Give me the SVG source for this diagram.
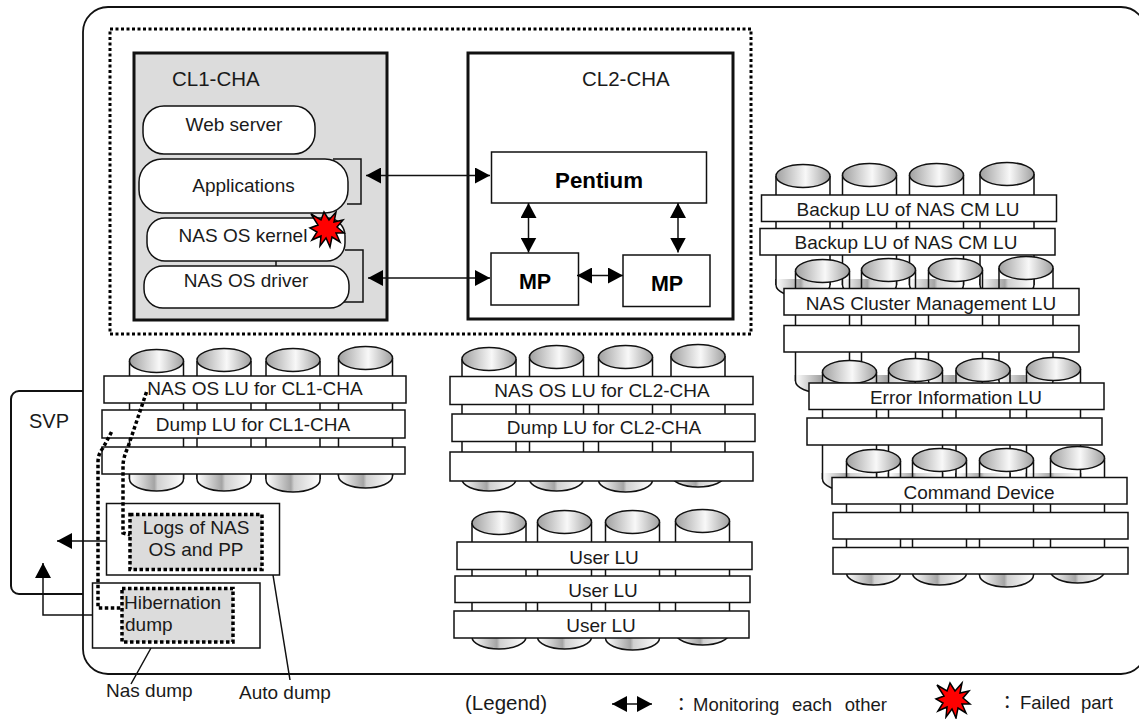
<svg xmlns="http://www.w3.org/2000/svg" xmlns:xlink="http://www.w3.org/1999/xlink" width="1139" height="719" viewBox="0 0 1139 719">
<style>
text{font-family:"Liberation Sans",Arial,sans-serif;font-size:19px;fill:#1a1a1a}
.m{text-anchor:middle}
.b{font-weight:bold;font-size:21.5px;fill:#000}
.bar,.box{fill:#fff;stroke:#111;stroke-width:1.5}
.pill{fill:#fff;stroke:#111;stroke-width:1.5}
.thick{stroke:#111;stroke-width:3}
.gray{fill:#dcdcdc}
.dot{fill:none;stroke:#000;stroke-width:3;stroke-dasharray:3 2.5}
.dot2{stroke:#000;stroke-width:3.5;stroke-dasharray:3.5 2.5}
.line{fill:none;stroke:#111;stroke-width:1.5}
.side{fill:none;stroke:#111;stroke-width:1.5}
.ar{marker-end:url(#head)}
.ar2{marker-start:url(#head);marker-end:url(#head)}
</style>
<defs>
<linearGradient id="gt"><stop offset="0" stop-color="#a0a0a0"/><stop offset=".55" stop-color="#f8f8f8"/><stop offset="1" stop-color="#a0a0a0"/></linearGradient>
<linearGradient id="gb"><stop offset="0" stop-color="#ffffff"/><stop offset=".46" stop-color="#a4a4a4"/><stop offset=".52" stop-color="#d0d0d0"/><stop offset="1" stop-color="#ffffff"/></linearGradient>
<marker id="head" markerUnits="userSpaceOnUse" markerWidth="16" markerHeight="16" refX="15" refY="8" orient="auto-start-reverse"><path d="M0 0L15 8L0 16Z" fill="#000"/></marker>
<ellipse id="ct" rx="27" ry="11.5" fill="url(#gt)" stroke="#111" stroke-width="1.5"/>
<path id="cb" d="M-27 -6V0A27 12 0 0 0 27 0V-6" fill="url(#gb)" stroke="#111" stroke-width="1.5"/>
<polygon id="star" points="-16,-15 -6,-9 -3,-17 2,-9 9,-17 7,-7 16,-9 10,-2 17,4 9,4 13,13 5,8 3,18 -1,9 -7,17 -6,7 -15,11 -10,3 -17,-1 -9,-4" fill="#f00" stroke="#000" stroke-width="1.5"/>
</defs>

<g id="svp"><rect x="11" y="391" width="110" height="203" rx="8" fill="#fff" stroke="#111" stroke-width="2"/><text x="29" y="428" style="font-size:20px">SVP</text></g>
<g id="storage-frame"><rect x="83" y="7" width="1063" height="667" rx="25" fill="#fff" stroke="#111" stroke-width="1.8"/></g>

<g id="cluster"><rect x="110" y="29" width="641" height="305" fill="none" class="dot"/></g>

<g id="cl1-cha">
<rect x="134" y="53" width="253" height="267" class="thick gray"/>
<text x="172" y="86" style="font-size:20.5px">CL1-CHA</text>
<path class="line" d="M333 159H361V204H347M345 250H363V302H343M276 261V266"/>
</g>
<g id="web-server"><rect x="143" y="106" width="172" height="48" rx="21" class="pill"/><text x="234" y="131" class="m">Web server</text></g>
<g id="applications"><rect x="139" y="159" width="209" height="54" rx="23" class="pill"/><text x="243.500" y="192" class="m">Applications</text></g>
<g id="nas-os-kernel"><rect x="147" y="218" width="198" height="43" rx="18" class="pill"/><text x="243" y="242" class="m">NAS OS kernel</text></g>
<g id="nas-os-driver"><rect x="144" y="266" width="205" height="42" rx="19" class="pill"/><text x="246" y="287" class="m">NAS OS driver</text></g>
<g id="failed-mark"><use href="#star" x="327" y="229"/></g>

<g id="cl2-cha"><rect x="468" y="53" width="265" height="266" class="thick" fill="#fff"/><text x="582" y="86" style="font-size:20.5px">CL2-CHA</text></g>
<g id="pentium"><rect x="491.500" y="152" width="215" height="51" class="box"/><text x="599" y="188" class="m b" style="font-size:22.300px">Pentium</text></g>
<g id="mp1"><rect x="491" y="253" width="87.500" height="52" class="box"/><text x="535" y="288.500" class="m b">MP</text></g>
<g id="mp2"><rect x="623" y="255" width="87" height="51.500" class="box"/><text x="667" y="291" class="m b">MP</text></g>

<g id="lu-cl1">
<path class="side" d="M129.500 361V479M183.500 361V479M197 361V479M251 361V479M266 361V479M320 361V479M338.500 358V476M392.500 358V476"/>
<use href="#cb" x="156.500" y="479"/><use href="#cb" x="224" y="479"/><use href="#cb" x="293" y="480"/><use href="#cb" x="365.500" y="476"/>
<use href="#ct" x="156.500" y="361"/><use href="#ct" x="224" y="360"/><use href="#ct" x="293" y="360"/><use href="#ct" x="365.500" y="358"/>
<rect x="104" y="376" width="302" height="27" class="bar"/><text x="255" y="395" class="m">NAS OS LU for CL1-CHA</text>
<rect x="102" y="410" width="303" height="28" class="bar"/><text x="253" y="431" class="m">Dump LU for CL1-CHA</text>
<rect x="102" y="447" width="303" height="27" class="bar"/>
</g>
<g id="lu-cl2">
<path class="side" d="M462 359V479M516 359V479M529.500 357V479M583.500 357V479M598.500 357V480M652.500 357V480M671 356V475M725 356V475"/>
<use href="#cb" x="489" y="479"/><use href="#cb" x="556.500" y="479"/><use href="#cb" x="625.500" y="480"/><use href="#cb" x="698" y="475"/>
<use href="#ct" x="489" y="359"/><use href="#ct" x="556.500" y="357"/><use href="#ct" x="625.500" y="357"/><use href="#ct" x="698" y="356"/>
<rect x="450" y="376.500" width="303" height="28" class="bar"/><text x="602" y="397" class="m">NAS OS LU for CL2-CHA</text>
<rect x="452" y="414" width="303" height="27.500" class="bar"/><text x="604" y="434" class="m">Dump LU for CL2-CHA</text>
<rect x="450" y="452" width="303" height="29" class="bar"/>
</g>
<g id="lu-user">
<path class="side" d="M472 523V637M526 523V637M537.500 522V637M591.500 522V637M605.500 522V638M659.500 522V638M675.500 521V633M729.500 521V633"/>
<use href="#cb" x="499" y="637"/><use href="#cb" x="564.500" y="637"/><use href="#cb" x="632.500" y="638"/><use href="#cb" x="702.500" y="633"/>
<use href="#ct" x="499" y="523"/><use href="#ct" x="564.500" y="522"/><use href="#ct" x="632.500" y="522"/><use href="#ct" x="702.500" y="521"/>
<rect x="457" y="542" width="295" height="27.500" class="bar"/><text x="604" y="564" class="m">User LU</text>
<rect x="455" y="576" width="295" height="26.500" class="bar"/><text x="603" y="597" class="m">User LU</text>
<rect x="454" y="611" width="295" height="27" class="bar"/><text x="601" y="632" class="m">User LU</text>
</g>
<g id="lu-backup">
<path class="side" d="M776 176V285M830 176V285M842.500 175V285M896.500 175V285M909.500 175V285M963.500 175V285M980 174V285M1034 174V285"/>
<use href="#cb" x="803" y="285"/><use href="#cb" x="869.500" y="285"/><use href="#cb" x="936.500" y="285"/><use href="#cb" x="1007" y="285"/>
<use href="#ct" x="803" y="176"/><use href="#ct" x="869.500" y="175"/><use href="#ct" x="936.500" y="175"/><use href="#ct" x="1007" y="174"/>
<rect x="761.500" y="195" width="295" height="26.500" class="bar"/><text x="908" y="216" class="m">Backup LU of NAS CM LU</text>
<rect x="760" y="228.500" width="295" height="26.500" class="bar"/><text x="906" y="249" class="m">Backup LU of NAS CM LU</text>
</g>
<g id="lu-cluster-management">
<path class="side" d="M795.500 271V381M849.500 271V381M861.500 270V381M915.500 270V381M928.500 270V381M982.500 270V381M999 268V381M1053 268V381"/>
<use href="#cb" x="822.500" y="381"/><use href="#cb" x="888.500" y="381"/><use href="#cb" x="955.500" y="381"/><use href="#cb" x="1026" y="381"/>
<use href="#ct" x="822.500" y="271"/><use href="#ct" x="888.500" y="270"/><use href="#ct" x="955.500" y="270"/><use href="#ct" x="1026" y="268"/>
<rect x="784" y="288.500" width="295" height="26.500" class="bar"/><text x="931" y="310" class="m">NAS Cluster Management LU</text>
<rect x="784" y="325.500" width="295" height="26.500" class="bar"/>
</g>
<g id="lu-error-information">
<path class="side" d="M822.500 372V479M876.500 372V479M888.500 370V479M942.500 370V479M956 370V479M1010 370V479M1026.500 369V479M1080.500 369V479"/>
<use href="#cb" x="849.500" y="479"/><use href="#cb" x="915.500" y="479"/><use href="#cb" x="983" y="479"/><use href="#cb" x="1053.500" y="479"/>
<use href="#ct" x="849.500" y="372"/><use href="#ct" x="915.500" y="370"/><use href="#ct" x="983" y="370"/><use href="#ct" x="1053.500" y="369"/>
<rect x="809" y="383" width="295" height="26.500" class="bar"/><text x="956" y="404" class="m">Error Information LU</text>
<rect x="807" y="418" width="295" height="27" class="bar"/>
</g>
<g id="lu-command-device">
<path class="side" d="M846.500 461V573M900.500 461V573M912.500 460V573M966.500 460V573M979.500 460V575M1033.500 460V575M1050.500 458V571M1104.500 458V571"/>
<use href="#cb" x="873.500" y="573"/><use href="#cb" x="939.500" y="573"/><use href="#cb" x="1006.500" y="575"/><use href="#cb" x="1077.500" y="571"/>
<use href="#ct" x="873.500" y="461"/><use href="#ct" x="939.500" y="460"/><use href="#ct" x="1006.500" y="460"/><use href="#ct" x="1077.500" y="458"/>
<rect x="832" y="477.500" width="295" height="26.500" class="bar"/><text x="979" y="499" class="m">Command Device</text>
<rect x="833" y="512.500" width="295" height="26.500" class="bar"/>
<rect x="833" y="547.500" width="295" height="26.500" class="bar"/>
</g>

<g id="auto-dump"><rect x="106.500" y="503.500" width="173" height="71.500" class="box"/><rect x="130" y="514.500" width="132" height="55" class="gray dot2"/><text x="196" y="534" class="m">Logs of NAS</text><text x="196" y="556" class="m">OS and PP</text></g>
<g id="nas-dump"><rect x="92.500" y="583" width="167.500" height="65" class="box"/><rect x="122" y="588.500" width="111" height="53.500" class="gray dot2"/><text x="124" y="609">Hibernation</text><text x="125" y="631">dump</text></g>

<g id="connectors">
<path class="line ar2" d="M366 175.500H490"/>
<path class="line ar2" d="M368 278H490"/>
<path class="line ar2" d="M528.500 203V252.500"/>
<path class="line ar2" d="M678 203V252.500"/>
<path class="line ar2" d="M577 275.500H623"/>
<path class="line ar" d="M106 541H57"/>
<path class="line ar" d="M92 615H43V563"/>
<path class="line" d="M273 575L290 680M151 648L131 684"/>
<path class="dot dot2" d="M146.500 392L128 447Q123 458 123 466V533L130 535"/>
<path class="dot dot2" d="M111.500 432L103 448Q98 454 98 462V608H122"/>
</g>

<g id="labels">
<text x="106" y="697">Nas dump</text>
<text x="239" y="699">Auto dump</text>
</g>

<g id="legend">
<text x="465" y="710" style="font-size:20.5px">(Legend)</text>
<path class="line ar2" d="M612 704H652"/>
<text y="711" style="font-size:18.500px"><tspan x="672" style="font-family:'Noto Sans CJK JP',sans-serif">：</tspan><tspan x="693" word-spacing="7.500">Monitoring each other</tspan></text>
<use href="#star" x="953" y="700"/>
<text y="709" style="font-size:18.500px"><tspan x="998" style="font-family:'Noto Sans CJK JP',sans-serif">：</tspan><tspan x="1020" word-spacing="5.500">Failed part</tspan></text>
</g>
</svg>
